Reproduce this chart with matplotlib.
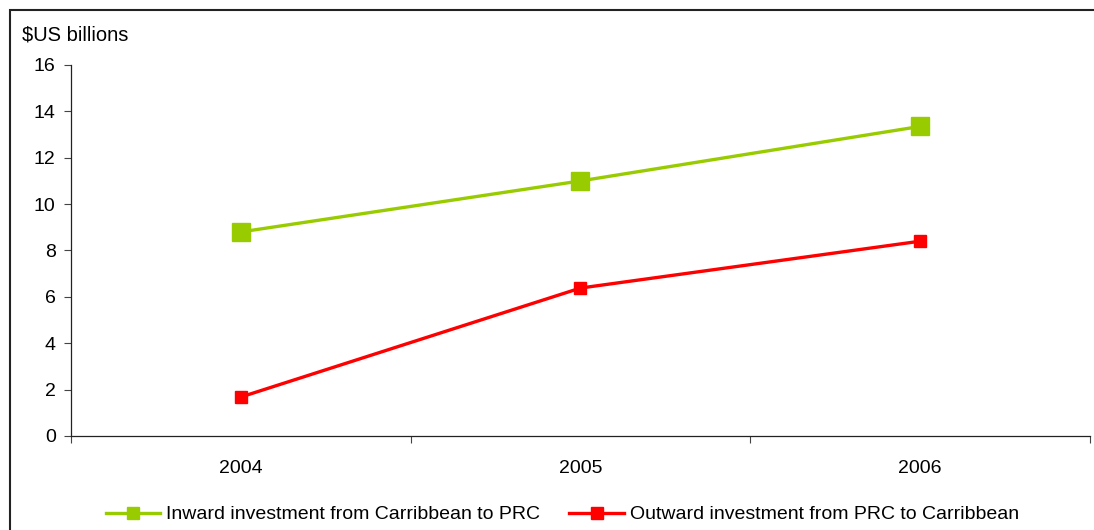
import matplotlib
matplotlib.use("Agg")
import matplotlib.pyplot as plt
from matplotlib.patches import Rectangle
from matplotlib.lines import Line2D
import numpy as np

years = ["2004", "2005", "2006"]
inward = [8.8, 11.0, 13.35]
outward = [1.68, 6.38, 8.4]
y_ticks = [0, 2, 4, 6, 8, 10, 12, 14, 16]
label_inward = "Inward investment from Carribbean to PRC"
label_outward = "Outward investment from PRC to Carribbean"

GREEN = "#99CC00"
RED = "#FF0000"

plt.rcParams["font.family"] = ["Liberation Sans", "DejaVu Sans"]

fig = plt.figure(figsize=(10.94, 5.30), dpi=100)
ax = fig.add_axes([0.0649, 0.1774, 0.9314, 0.70])

x = np.arange(len(years))
ax.plot(x, inward, color=GREEN, lw=2.4, marker="s", markersize=13.5, zorder=3)
ax.plot(x, outward, color=RED, lw=2.4, marker="s", markersize=8, zorder=3)

ax.set_xlim(-0.5, len(years) - 0.5)
ax.set_ylim(0, 16)
ax.set_yticks(y_ticks)
ax.set_yticklabels([str(v) for v in y_ticks])

# Category labels centred, tick marks on category boundaries
ax.set_xticks(x)
ax.set_xticklabels(years)
ax.set_xticks(np.arange(-0.5, len(years)), minor=True)
ax.tick_params(axis="x", which="major", length=0, pad=17, labelsize=14)
ax.tick_params(axis="x", which="minor", length=5, width=0.8, color="#444444", direction="out")
ax.tick_params(axis="y", length=5, width=0.8, color="#444444", pad=6, labelsize=14)

for side in ("top", "right"):
    ax.spines[side].set_visible(False)
for side in ("left", "bottom"):
    ax.spines[side].set_color("#222222")
    ax.spines[side].set_linewidth(0.9)

fig.text(22 / 1094, 1 - 35 / 530, "$US billions", fontsize=14.5, va="center", ha="left")

handles = [
    Line2D([], [], color=GREEN, lw=2.4, marker="s", markersize=8),
    Line2D([], [], color=RED, lw=2.4, marker="s", markersize=8),
]
fig.legend(handles, [label_inward, label_outward], loc="center",
           bbox_to_anchor=(0.514, 0.029), ncol=2, frameon=False,
           fontsize=14, handlelength=2.8, columnspacing=1.5, handletextpad=0.3)

# Outer frame around the chart area
fig.patches.append(Rectangle((10 / 1094, -0.05), 1.1, 1 - 10 / 530 + 0.05,
                             transform=fig.transFigure, fill=False,
                             edgecolor="#222222", lw=1.5))

fig.savefig("out.png", dpi=100)
